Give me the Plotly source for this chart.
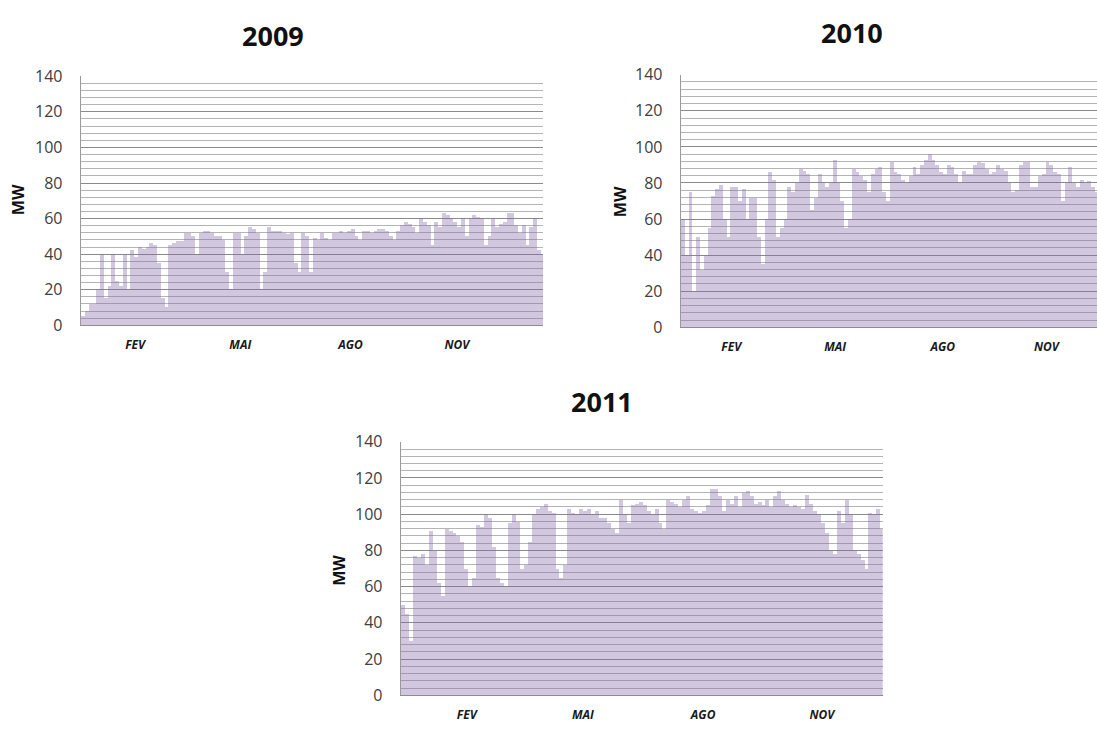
import plotly.graph_objects as go

# ---------------- data (3-day peak output, MW) ----------------
BLOCK_DAYS = 3
years = ["2009", "2010", "2011"]
months = ["FEV", "MAI", "AGO", "NOV"]

# month label positions (day of year) per panel
month_days_2009 = [43, 126, 213, 297]
month_days_2010 = [40, 122, 207, 289]
month_days_2011 = [50, 138, 229, 319]

peaks_2009 = [5, 8, 12, 12, 20, 40, 15, 22, 40, 25, 22, 40, 20, 42, 38, 44, 43, 44, 46, 45,
              35, 15, 10, 45, 46, 47, 47, 52, 52, 50, 40, 52, 53, 53, 52, 50, 50, 48, 30, 20,
              52, 52, 40, 50, 55, 54, 52, 20, 30, 55, 53, 53, 53, 52, 51, 52, 35, 30, 52, 50,
              30, 49, 48, 52, 49, 48, 52, 52, 53, 52, 53, 54, 50, 48, 53, 53, 52, 53, 54, 54,
              53, 50, 48, 53, 56, 58, 57, 55, 52, 60, 58, 56, 45, 58, 55, 63, 62, 60, 58, 55,
              60, 50, 60, 62, 61, 60, 45, 50, 60, 55, 57, 58, 63, 63, 56, 52, 56, 45, 55, 60,
              42, 40]

peaks_2010 = [60, 40, 75, 20, 50, 32, 40, 55, 73, 77, 79, 60, 50, 78, 78, 70, 77, 60, 72, 72,
              50, 35, 60, 86, 82, 50, 55, 60, 78, 75, 80, 88, 87, 85, 65, 72, 85, 80, 78, 80,
              93, 80, 70, 55, 60, 88, 86, 84, 82, 75, 85, 88, 89, 75, 70, 92, 86, 85, 82, 80,
              84, 89, 85, 90, 93, 96, 93, 90, 86, 85, 90, 89, 85, 80, 87, 85, 85, 90, 92, 91,
              88, 85, 86, 90, 88, 87, 80, 75, 76, 90, 92, 92, 78, 78, 84, 85, 92, 90, 86, 85,
              70, 80, 89, 80, 78, 82, 80, 81, 78, 75]

peaks_2011 = [50, 45, 30, 77, 76, 78, 72, 91, 80, 62, 55, 92, 91, 90, 88, 85, 70, 60, 65, 94,
              93, 100, 98, 82, 65, 62, 60, 95, 100, 96, 70, 72, 85, 100, 103, 104, 106, 102, 101, 70,
              65, 72, 103, 101, 100, 103, 102, 103, 100, 102, 98, 98, 95, 92, 90, 108, 100, 95, 105, 106,
              107, 105, 102, 100, 103, 95, 92, 108, 107, 106, 104, 108, 110, 103, 102, 101, 102, 105, 114, 114,
              110, 102, 108, 106, 110, 104, 112, 113, 110, 106, 107, 105, 108, 104, 110, 113, 108, 106, 104, 105,
              104, 103, 111, 106, 102, 100, 95, 90, 80, 78, 102, 95, 108, 100, 80, 78, 75, 70, 101, 100,
              103, 92]

# ---------------- layout geometry (pixels of a 1097 x 738 page) ----------------
W, H = 1097, 738


def xdom(l, r):
    return [l / W, min(r / W, 1.0)]


def ydom(top, bottom):
    return [1 - bottom / H, 1 - top / H]


panels = [
    dict(vals=peaks_2009, mdays=month_days_2009, x=xdom(80.7, 543), y=ydom(67.3, 324),
         xrange=[0, 365], title_xy=(273, 25), mw_xy=(18, 195)),
    dict(vals=peaks_2010, mdays=month_days_2010, x=xdom(680.7, 1097), y=ydom(65.7, 326),
         xrange=[0, 365 * (1097 - 680.7) / 462], title_xy=(852, 22), mw_xy=(620, 197)),
    dict(vals=peaks_2011, mdays=month_days_2011, x=xdom(400.7, 882.7), y=ydom(444, 705.3),
         xrange=[0, 365], title_xy=(602, 402), mw_xy=(339, 577)),
]

FILL = "rgba(135,108,170,0.38)"
FONT = "Open Sans"

fig = go.Figure()
annotations = []
for i, p in enumerate(panels):
    n = "" if i == 0 else str(i + 1)
    xs = [BLOCK_DAYS * (k + 0.5) for k in range(len(p["vals"]))]
    fig.add_trace(go.Bar(
        x=xs, y=p["vals"], width=BLOCK_DAYS,
        marker=dict(color=FILL, line=dict(width=0)),
        xaxis="x" + n, yaxis="y" + n, showlegend=False, hoverinfo="x+y",
    ))
    fig.layout["xaxis" + n] = dict(
        domain=p["x"], anchor="y" + n, range=p["xrange"],
        showgrid=False, zeroline=False, showline=True, linecolor="#8c8c8c", linewidth=1,
        tickmode="array", tickvals=p["mdays"],
        ticktext=["<b><i>%s</i></b>" % m for m in months],
        ticks="", ticklabelstandoff=8,
        tickfont=dict(family=FONT, size=12, color="#1a1a1a"),
        fixedrange=True,
    )
    fig.layout["yaxis" + n] = dict(
        domain=p["y"], anchor="x" + n, range=[0, 140],
        tickmode="array", tickvals=list(range(0, 141, 20)),
        showgrid=True, gridcolor="#8a8a8a", gridwidth=1,
        minor=dict(dtick=4, showgrid=True, gridcolor="#b4b4b4", gridwidth=1),
        zeroline=False, showline=True, linecolor="#9a9a9a", linewidth=1,
        ticks="", ticklabelstandoff=14,
        tickfont=dict(family=FONT, size=16, color="#404040"),
        fixedrange=True,
    )
    tx, ty = p["title_xy"]
    annotations.append(dict(text="<b>%s</b>" % years[i], x=tx / W, y=1 - ty / H,
                            xref="paper", yref="paper", showarrow=False,
                            xanchor="center", yanchor="middle",
                            font=dict(family=FONT, size=27, color="#111111")))
    mx, my = p["mw_xy"]
    annotations.append(dict(text="<b>MW</b>", x=mx / W, y=1 - my / H,
                            xref="paper", yref="paper", showarrow=False, textangle=-90,
                            xanchor="center", yanchor="middle",
                            font=dict(family=FONT, size=16, color="#111111")))

fig.update_layout(
    width=W, height=H, margin=dict(l=0, r=0, t=0, b=0),
    paper_bgcolor="white", plot_bgcolor="white",
    bargap=0, annotations=annotations, font=dict(family=FONT),
)

fig.write_html("out.html", config={"displayModeBar": False},
               post_script="document.body.style.margin='0';")
